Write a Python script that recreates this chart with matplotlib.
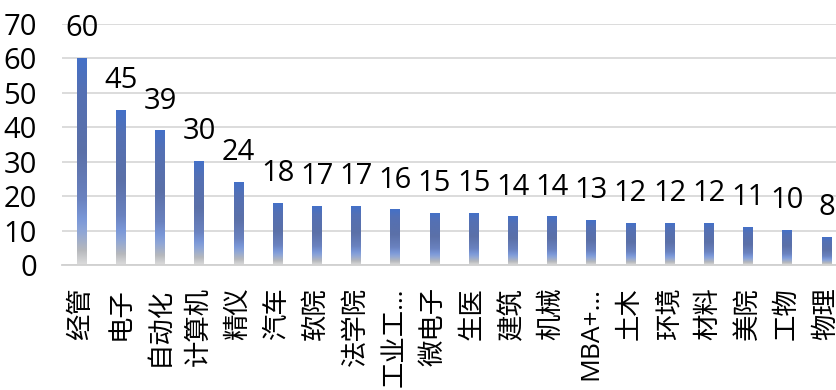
import matplotlib
matplotlib.use("Agg")
import matplotlib.pyplot as plt
import numpy as np
from matplotlib.colors import LinearSegmentedColormap

plt.rcParams['font.family'] = ['Open Sans', 'Noto Sans CJK SC', 'DejaVu Sans']

categories = ["经管", "电子", "自动化", "计算机", "精仪", "汽车", "软院", "法学院", "工业工…",
              "微电子", "生医", "建筑", "机械", "MBA+…", "土木", "环境", "材料", "美院", "工物", "物理"]
values = [60, 45, 39, 30, 24, 18, 17, 17, 16, 15, 15, 14, 14, 13, 12, 12, 12, 11, 10, 8]
yticks = [0, 10, 20, 30, 40, 50, 60, 70]

# vertical gradient used to fill each bar, bottom -> top
bar_cmap = LinearSegmentedColormap.from_list(
    "bar_grad",
    [(0.00, "#dcdcdc"), (0.07, "#b6b8bc"), (0.16, "#8fa6d6"), (0.22, "#7b98d8"),
     (0.32, "#6a82bf"), (0.55, "#5b70a8"), (0.85, "#5470b4"), (1.00, "#4471c8")])

fig = plt.figure(figsize=(8.37, 3.90), dpi=100)
ax = fig.add_axes([62 / 837, 125 / 390, 784 / 837, 241 / 390])

x = np.arange(len(categories))
bar_w = 0.24
bars = ax.bar(x, values, width=bar_w, color="none", zorder=2)
grad = np.linspace(0, 1, 256).reshape(-1, 1)
for rect in bars:
    x0, w, h = rect.get_x(), rect.get_width(), rect.get_height()
    ax.imshow(grad, cmap=bar_cmap, origin="lower", aspect="auto",
              extent=[x0, x0 + w, 0, h], zorder=2, interpolation="bilinear")

for xi, v in zip(x, values):
    ax.annotate(str(v), (xi, v), xytext=(0, 16), textcoords="offset points",
                ha="center", va="baseline", fontsize=21, color="black", zorder=3)

ax.set_xlim(-0.5, len(categories) - 0.5)
ax.set_ylim(0, 70)
ax.set_yticks(yticks)
ax.set_yticklabels([str(t) for t in yticks], fontsize=21)
ax.set_xticks(x)
ax.set_xticklabels(categories, rotation=90, fontsize=19, va="top", ha="center")
ax.tick_params(axis="both", length=0)
ax.tick_params(axis="y", pad=18)
ax.tick_params(axis="x", pad=16)

ax.yaxis.grid(True, color="#d9d9d9", linewidth=1.3, zorder=0)
ax.set_axisbelow(True)
for s in ["top", "right", "left"]:
    ax.spines[s].set_visible(False)
ax.spines["bottom"].set_color("#d0d0d0")
ax.spines["bottom"].set_linewidth(1.3)

fig.savefig("out.png", dpi=100)
